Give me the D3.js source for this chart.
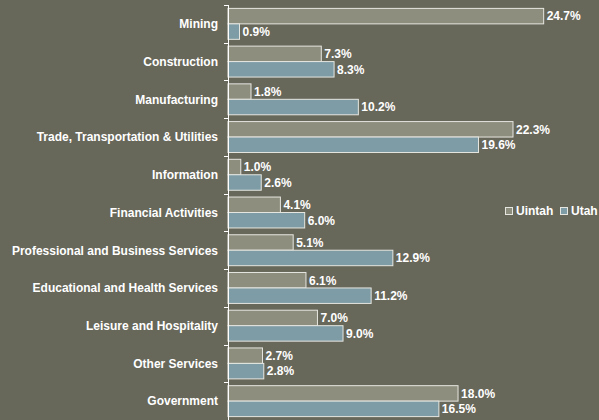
<!DOCTYPE html>
<html>
<head>
<meta charset="utf-8">
<script src="https://cdn.jsdelivr.net/npm/d3@7"></script>
<style>
  body { margin: 0; background: #67675a; }
  svg { display: block; }
  text { font-family: "Liberation Sans", Arial, sans-serif; font-weight: bold; font-size: 12px; fill: #ffffff; }
</style>
</head>
<body>
<div id="chart"></div>
<script>
// industry share of employment, Uintah county vs Utah
var categories = ["Mining", "Construction", "Manufacturing", "Trade, Transportation & Utilities",
    "Information", "Financial Activities", "Professional and Business Services",
    "Educational and Health Services", "Leisure and Hospitality", "Other Services", "Government"];
var uintah = [24.7, 7.3, 1.8, 22.3, 1.0, 4.1, 5.1, 6.1, 7.0, 2.7, 18.0];
var utah   = [0.9, 8.3, 10.2, 19.6, 2.6, 6.0, 12.9, 11.2, 9.0, 2.8, 16.5];
var seriesNames = ["Uintah", "Utah"];
var seriesColors = ["#8e8e7e", "#7d9ca6"];

var width = 599, height = 420;
var plotLeft = 228, plotTop = 5, plotBottom = 420;

var svg = d3.select("#chart").append("svg")
    .attr("width", width)
    .attr("height", height);

svg.append("rect")
    .attr("width", width).attr("height", height)
    .attr("fill", "#67675a");

var x = d3.scaleLinear().domain([0, 25]).range([plotLeft, plotLeft + 319.5]);
var y = d3.scaleBand().domain(categories).range([plotTop, plotBottom])
    .paddingInner(0.18).paddingOuter(0.09);
var ys = d3.scaleBand().domain(seriesNames).range([0, y.bandwidth()]);

var rows = categories.map(function(c, i) {
    return {cat: c, vals: [uintah[i], utah[i]]};
});

var g = svg.selectAll("g.row")
    .data(rows)
  .enter().append("g")
    .attr("class", "row")
    .attr("transform", function(d) { return "translate(0," + y(d.cat) + ")"; });

g.selectAll("rect")
    .data(function(d) { return d.vals; })
  .enter().append("rect")
    .attr("x", x(0))
    .attr("y", function(d, i) { return ys(seriesNames[i]); })
    .attr("width", function(d) { return x(d) - x(0); })
    .attr("height", ys.bandwidth())
    .attr("fill", function(d, i) { return seriesColors[i]; })
    .attr("stroke", "#e6e6e0")
    .attr("stroke-width", 1);

g.selectAll("text.val")
    .data(function(d) { return d.vals; })
  .enter().append("text")
    .attr("class", "val")
    .attr("x", function(d) { return x(d) + 3; })
    .attr("y", function(d, i) { return ys(seriesNames[i]) + ys.bandwidth() / 2; })
    .attr("dy", "0.36em")
    .text(function(d) { return d.toFixed(1) + "%"; });

// category labels
svg.selectAll("text.cat")
    .data(categories)
  .enter().append("text")
    .attr("class", "cat")
    .attr("x", 218)
    .attr("y", function(d) { return y(d) + y.bandwidth() / 2; })
    .attr("dy", "0.36em")
    .attr("text-anchor", "end")
    .text(function(d) { return d; });

// axis line with ticks between categories
var step = y.step();
var tickPos = d3.range(categories.length + 1).map(function(i) { return plotTop + i * step; });
svg.append("line")
    .attr("x1", plotLeft + 0.5).attr("x2", plotLeft + 0.5)
    .attr("y1", plotTop).attr("y2", plotBottom)
    .attr("stroke", "#ffffff");
svg.selectAll("line.tick")
    .data(tickPos)
  .enter().append("line")
    .attr("class", "tick")
    .attr("x1", plotLeft - 4).attr("x2", plotLeft)
    .attr("y1", function(d) { return Math.round(d) + 0.5; })
    .attr("y2", function(d) { return Math.round(d) + 0.5; })
    .attr("stroke", "#ffffff");

// legend
var legend = svg.append("g").attr("transform", "translate(505,207)");
var lx = [0, 55];
seriesNames.forEach(function(s, i) {
    legend.append("rect")
        .attr("x", lx[i] + 0.5).attr("y", 0.5)
        .attr("width", 7).attr("height", 7)
        .attr("fill", seriesColors[i])
        .attr("stroke", "#e6e6e0");
    legend.append("text")
        .attr("x", lx[i] + 11)
        .attr("y", 4)
        .attr("dy", "0.36em")
        .text(s);
});
</script>
</body>
</html>
